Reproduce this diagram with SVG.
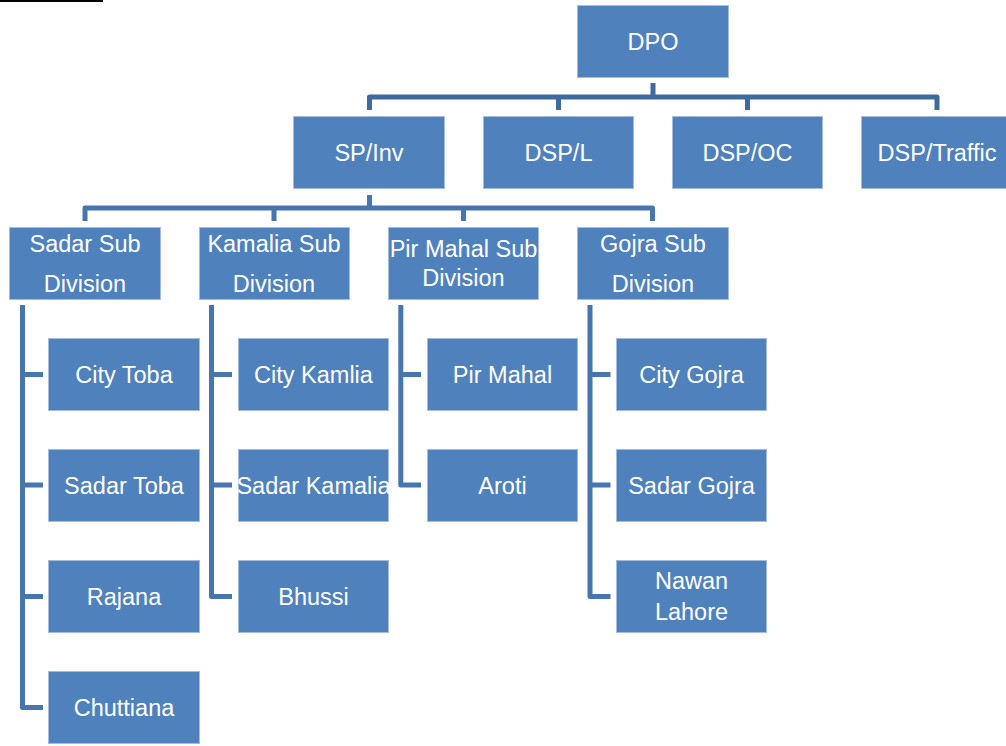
<svg xmlns="http://www.w3.org/2000/svg" width="1006" height="746" viewBox="0 0 1006 746">
<style>
.box{fill:#4F81BD;stroke:#A3BCDF;stroke-width:1}
.t{fill:#FFFFFF;font-family:"Liberation Sans","Noto Sans",Arial,sans-serif;font-size:23.5px;text-anchor:middle}
.c{fill:none;stroke:#4775AE;stroke-width:5;stroke-linejoin:round}
.c0{fill:none;stroke:#3F6A9E;stroke-width:5;stroke-linejoin:round}
</style>
<rect x="0" y="0" width="103" height="2" fill="#000"/>
<g id="connectors">
<path class="c0" d="M653,83 V97"/>
<path class="c0" d="M369.5,110 V97 H937 V110"/>
<path class="c0" d="M558.5,97 V110 M747.5,97 V110"/>
<path class="c" d="M369.5,195 V208"/>
<path class="c" d="M85,221 V208 H652.5 V221"/>
<path class="c" d="M274,208 V221 M463.5,208 V221"/>
<path class="c" d="M22.5,305 V707.5 H43"/>
<path class="c" d="M22.5,374.5 H43 M22.5,485 H43 M22.5,596.5 H43"/>
<path class="c" d="M211.5,305 V596.5 H232"/>
<path class="c" d="M211.5,374.5 H232 M211.5,485 H232"/>
<path class="c" d="M400.8,305 V485 H421"/>
<path class="c" d="M400.8,374.5 H421"/>
<path class="c" d="M590,305 V596.5 H610.5"/>
<path class="c" d="M590,374.5 H610.5 M590,485 H610.5"/>
</g>
<g id="dpo"><rect class="box" x="577.5" y="5.5" width="151" height="72"/><text class="t" x="653" y="49.5">DPO</text></g>
<g id="sp-inv"><rect class="box" x="293.5" y="116.5" width="151" height="72"/><text class="t" x="369" y="160.5">SP/Inv</text></g>
<g id="dsp-l"><rect class="box" x="483.5" y="116.5" width="150" height="72"/><text class="t" x="558.5" y="160.5">DSP/L</text></g>
<g id="dsp-oc"><rect class="box" x="672.5" y="116.5" width="150" height="72"/><text class="t" x="747.5" y="160.5">DSP/OC</text></g>
<g id="dsp-traffic"><rect class="box" x="861.5" y="116.5" width="151" height="72"/><text class="t" x="937" y="160.5">DSP/Traffic</text></g>
<g id="sadar-sub"><rect class="box" x="9.5" y="227.5" width="151" height="72"/><text class="t" x="85" y="252">Sadar Sub</text><text class="t" x="85" y="292">Division</text></g>
<g id="kamalia-sub"><rect class="box" x="199.5" y="227.5" width="150" height="72"/><text class="t" x="274" y="252">Kamalia Sub</text><text class="t" x="274" y="292">Division</text></g>
<g id="pirmahal-sub"><rect class="box" x="388.5" y="227.5" width="150" height="72"/><text class="t" x="463.5" y="257">Pir Mahal Sub</text><text class="t" x="463.5" y="286">Division</text></g>
<g id="gojra-sub"><rect class="box" x="577.5" y="227.5" width="151" height="72"/><text class="t" x="653" y="252">Gojra Sub</text><text class="t" x="653" y="292">Division</text></g>
<g id="city-toba"><rect class="box" x="48.5" y="338.5" width="151" height="72"/><text class="t" x="124" y="382.5">City Toba</text></g>
<g id="sadar-toba"><rect class="box" x="48.5" y="449.5" width="151" height="72"/><text class="t" x="124" y="493.5">Sadar Toba</text></g>
<g id="rajana"><rect class="box" x="48.5" y="560.5" width="151" height="72"/><text class="t" x="124" y="604.5">Rajana</text></g>
<g id="chuttiana"><rect class="box" x="48.5" y="671.5" width="151" height="72"/><text class="t" x="124" y="715.5">Chuttiana</text></g>
<g id="city-kamlia"><rect class="box" x="238.5" y="338.5" width="150" height="72"/><text class="t" x="313.5" y="382.5">City Kamlia</text></g>
<g id="sadar-kamalia"><rect class="box" x="238.5" y="449.5" width="150" height="72"/><text class="t" x="313.5" y="493.5">Sadar Kamalia</text></g>
<g id="bhussi"><rect class="box" x="238.5" y="560.5" width="150" height="72"/><text class="t" x="313.5" y="604.5">Bhussi</text></g>
<g id="pir-mahal"><rect class="box" x="427.5" y="338.5" width="150" height="72"/><text class="t" x="502.5" y="382.5">Pir Mahal</text></g>
<g id="aroti"><rect class="box" x="427.5" y="449.5" width="150" height="72"/><text class="t" x="502.5" y="493.5">Aroti</text></g>
<g id="city-gojra"><rect class="box" x="616.5" y="338.5" width="150" height="72"/><text class="t" x="691.5" y="382.5">City Gojra</text></g>
<g id="sadar-gojra"><rect class="box" x="616.5" y="449.5" width="150" height="72"/><text class="t" x="691.5" y="493.5">Sadar Gojra</text></g>
<g id="nawan-lahore"><rect class="box" x="616.5" y="560.5" width="150" height="72"/><text class="t" x="691.5" y="588.5">Nawan</text><text class="t" x="691.5" y="619.5">Lahore</text></g>
</svg>
